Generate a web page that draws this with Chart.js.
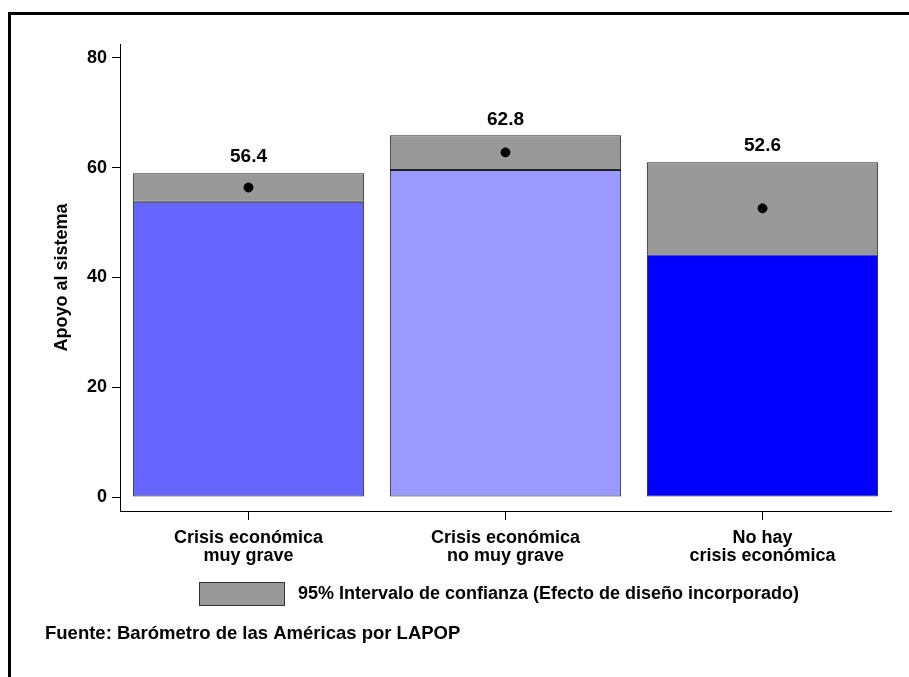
<!DOCTYPE html>
<html>
<head>
<meta charset="utf-8">
<script src="https://cdn.jsdelivr.net/npm/chart.js@4"></script>
<style>
    body { margin: 0; background: #fff; overflow: hidden; }
    #frame { position: absolute; left: 8px; top: 12px; width: 1000px; height: 800px; border: 3px solid #000; }
    #wrap { position: absolute; left: 0; top: 0; width: 909px; height: 677px; }
</style>
</head>
<body>
<div id="frame"></div>
<div id="wrap"><canvas id="chart"></canvas></div>
<script>
// categories and values
const categories = [['Crisis económica', 'muy grave'], ['Crisis económica', 'no muy grave'], ['No hay', 'crisis económica']];
const means = [56.4, 62.8, 52.6];
const ciLower = [53.8, 59.6, 44.2];
const ciUpper = [59.0, 65.9, 61.0];
const barColors = ['#6666FF', '#9999FF', '#0000FF'];
const yTicks = [0, 20, 40, 60, 80];

const legendText = '95% Intervalo de confianza (Efecto de diseño incorporado)';
const sourceText = 'Fuente: Barómetro de las Américas por LAPOP';

const FONT = '"Liberation Sans", Arial, sans-serif';

// value labels above bars, legend and source note
const extrasPlugin = {
    id: 'extras',
    afterDatasetsDraw(chart) {
        const ctx = chart.ctx;
        const x = chart.scales.x;
        const y = chart.scales.y;
        ctx.save();
        ctx.fillStyle = '#000';
        ctx.font = 'bold 19px ' + FONT;
        ctx.textAlign = 'center';
        ctx.textBaseline = 'middle';
        means.forEach((m, i) => {
            ctx.fillText(m.toFixed(1), x.getPixelForValue(i), y.getPixelForValue(ciUpper[i]) - 16);
        });

        // legend
        ctx.fillStyle = '#999999';
        ctx.fillRect(199, 582, 85, 23);
        ctx.strokeStyle = '#333';
        ctx.lineWidth = 1;
        ctx.strokeRect(199.5, 582.5, 85, 23);
        ctx.fillStyle = '#000';
        ctx.textAlign = 'left';
        ctx.font = 'bold 18px ' + FONT;
        ctx.fillText(legendText, 298, 594);

        ctx.font = 'bold 18.5px ' + FONT;
        ctx.fillText(sourceText, 45, 634);
        ctx.restore();
    }
};

new Chart(document.getElementById('chart'), {
    type: 'bar',
    data: {
        labels: categories,
        datasets: [
            {
                type: 'line',
                label: 'Media',
                data: means,
                showLine: false,
                pointRadius: 4.5,
                pointBackgroundColor: '#000',
                pointBorderColor: '#000',
                order: 0
            },
            {
                label: '95% Intervalo de confianza',
                data: ciLower.map((lo, i) => [lo, ciUpper[i]]),
                backgroundColor: '#999999',
                borderColor: '#222',
                borderWidth: 1,
                borderSkipped: false,
                grouped: false,
                barPercentage: 0.9,
                categoryPercentage: 1.0,
                order: 1
            },
            {
                label: 'Apoyo',
                data: ciLower.map(lo => [0, lo]),
                backgroundColor: barColors,
                borderColor: '#222',
                borderWidth: 1,
                borderSkipped: false,
                grouped: false,
                barPercentage: 0.9,
                categoryPercentage: 1.0,
                order: 2
            }
        ]
    },
    options: {
        responsive: true,
        maintainAspectRatio: false,
        animation: false,
        layout: {
            padding: { left: 50, top: 44, right: 18, bottom: 106 }
        },
        scales: {
            x: {
                offset: true,
                afterFit: function (scale) { scale.height = 60; },
                grid: {
                    display: true,
                    offset: false,
                    drawOnChartArea: false,
                    drawTicks: true,
                    tickLength: 9,
                    color: '#000'
                },
                border: { display: true, color: '#000', width: 1 },
                ticks: {
                    color: '#000',
                    padding: 9,
                    maxRotation: 0,
                    font: { family: FONT, size: 18, weight: 'bold', lineHeight: 1.0 }
                }
            },
            y: {
                min: -2.55,
                max: 82.55,
                afterFit: function (scale) { scale.width = 70; },
                afterBuildTicks: function (scale) {
                    scale.ticks = yTicks.map(v => ({ value: v }));
                },
                grid: {
                    display: true,
                    drawOnChartArea: false,
                    drawTicks: true,
                    tickLength: 8,
                    color: '#000'
                },
                border: { display: true, color: '#000', width: 1 },
                ticks: {
                    color: '#000',
                    padding: 5,
                    font: { family: FONT, size: 18, weight: 'bold' }
                },
                title: {
                    display: true,
                    text: 'Apoyo al sistema',
                    color: '#000',
                    padding: { top: 1, bottom: 0 },
                    font: { family: FONT, size: 18, weight: 'bold' }
                }
            }
        },
        plugins: {
            legend: { display: false },
            tooltip: { enabled: false }
        }
    },
    plugins: [extrasPlugin]
});
</script>
</body>
</html>
